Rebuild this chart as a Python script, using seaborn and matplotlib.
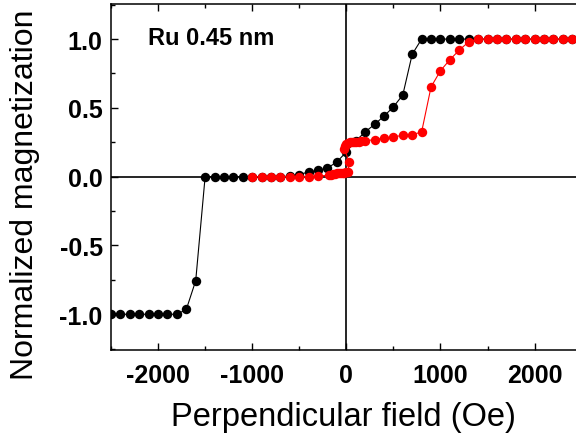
# Ru 0.45 nm hysteresis loop, normalized magnetization vs perpendicular field
import numpy as np
import pandas as pd
import seaborn as sns
import matplotlib.pyplot as plt
from matplotlib.ticker import MultipleLocator

# black branch (full sweep)
field_black = [-2500, -2400, -2300, -2200, -2100, -2000, -1900, -1800, -1700, -1600,
               -1500, -1400, -1300, -1200, -1100, -1000, -900, -800, -700, -600,
               -500, -400, -300, -200, -100, 0, 100, 200, 300, 400, 500, 600, 700,
               800, 900, 1000, 1100, 1200, 1300, 1400, 1500, 1600, 1700, 1800, 1900,
               2000, 2100, 2200, 2300, 2400, 2500]
mag_black = [-1.0, -1.0, -1.0, -1.0, -1.0, -1.0, -1.0, -1.0, -0.965, -0.756,
             0.0, 0.0, 0.0, 0.0, 0.0, 0.0, 0.0, 0.0, 0.0, 0.005,
             0.015, 0.035, 0.045, 0.063, 0.107, 0.18, 0.26, 0.325, 0.38, 0.44, 0.507, 0.594, 0.89,
             1.0, 1.0, 1.0, 1.0, 1.0, 1.0, 1.0, 1.0, 1.0, 1.0, 1.0, 1.0,
             1.0, 1.0, 1.0, 1.0, 1.0, 1.0]

# red branch (minor sweep starting at -1000 Oe)
field_red = [-1000, -900, -800, -700, -600, -500, -400, -300,
             -180, -160, -140, -120, -100, -80, -60, -40, -20, 0, 10, 20,
             30, -20, -10, 0, 20, 40, 60, 80, 100, 130, 160, 200,
             300, 400, 500, 600, 700, 800, 900, 1000, 1100, 1200, 1300, 1400,
             1500, 1600, 1700, 1800, 1900, 2000, 2100, 2200, 2300, 2400, 2500]
mag_red = [0.0, 0.0, 0.0, 0.0, 0.0, 0.0, 0.0, 0.005,
           0.01, 0.015, 0.02, 0.02, 0.025, 0.025, 0.03, 0.03, 0.03, 0.035, 0.035, 0.035,
           0.107, 0.20, 0.225, 0.24, 0.245, 0.25, 0.25, 0.252, 0.255, 0.255, 0.258, 0.26,
           0.27, 0.28, 0.29, 0.30, 0.305, 0.325, 0.652, 0.77, 0.85, 0.92, 0.98, 1.0,
           1.0, 1.0, 1.0, 1.0, 1.0, 1.0, 1.0, 1.0, 1.0, 1.0, 1.0]

df_black = pd.DataFrame({"field": field_black, "mag": mag_black})
df_red = pd.DataFrame({"field": field_red, "mag": mag_red})

sns.set_style("ticks", {"text.color": "black", "axes.labelcolor": "black",
                        "xtick.color": "black", "ytick.color": "black",
                        "axes.edgecolor": "black"})
plt.rcParams["font.family"] = ["Liberation Sans", "DejaVu Sans"]

fig = plt.figure(figsize=(5.76, 4.39), dpi=100)
ax = fig.add_axes([0.1927, 0.201, 0.8073, 0.7876])

# zero lines
ax.axhline(0, color="black", lw=1.2, zorder=1)
ax.axvline(0, color="black", lw=1.2, zorder=1)

sns.lineplot(data=df_black, x="field", y="mag", sort=False, estimator=None, ax=ax,
             color="black", lw=0.8, marker="o", markersize=6.8, markeredgewidth=0,
             zorder=3)
sns.lineplot(data=df_red, x="field", y="mag", sort=False, estimator=None, ax=ax,
             color="#ff0000", lw=0.8, marker="o", markersize=6.8, markeredgewidth=0,
             zorder=4)

ax.set_xlim(-2500, 2440)
ax.set_ylim(-1.258, 1.255)
ax.xaxis.set_minor_locator(MultipleLocator(500))
ax.yaxis.set_minor_locator(MultipleLocator(0.25))
ax.set_xticks([-2000, -1000, 0, 1000, 2000])
ax.set_xticklabels(["-2000", "-1000", "0", "1000", "2000"])
ax.set_yticks([-1.0, -0.5, 0.0, 0.5, 1.0])
ax.set_yticklabels(["-1.0", "-0.5", "0.0", "0.5", "1.0"])

ax.tick_params(which="both", direction="in", top=True, right=False, width=1.0,
               color="black", labelcolor="black")
ax.tick_params(which="major", length=5, labelsize=18)
ax.tick_params(axis="x", which="major", pad=9.5)
ax.tick_params(axis="y", which="major", pad=6)
ax.tick_params(which="minor", length=3)
for lab in ax.get_xticklabels() + ax.get_yticklabels():
    lab.set_fontweight("bold")

for side in ["left", "bottom", "top"]:
    ax.spines[side].set_linewidth(1.1)
ax.spines["right"].set_visible(False)

ax.set_xlabel("Perpendicular field (Oe)", fontsize=23.5, labelpad=10)
ax.set_ylabel("Normalized magnetization", fontsize=23)
ax.yaxis.set_label_coords(-0.153, 0.451)

ax.text(-2110, 0.965, "Ru 0.45 nm", fontsize=17, fontweight="bold", va="baseline")

fig.savefig("out.png", dpi=100)
plt.close(fig)
